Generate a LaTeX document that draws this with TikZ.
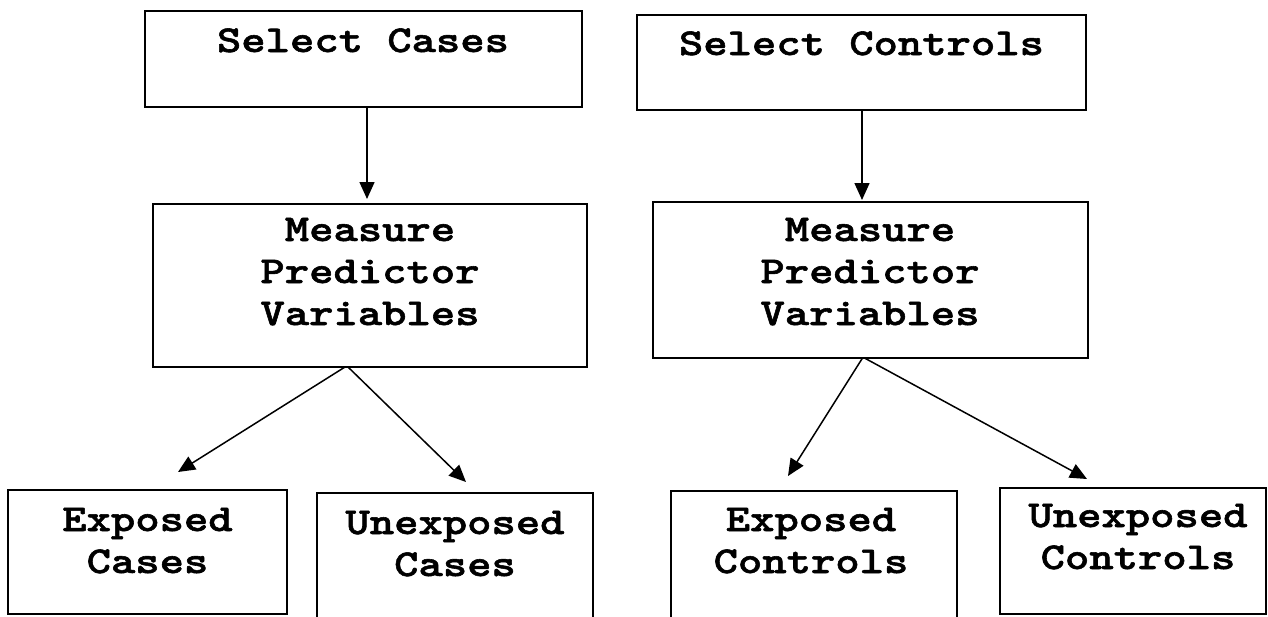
\documentclass[tikz,border=0pt]{standalone}
\usepackage{fontspec}
\usetikzlibrary{arrows.meta}
% Latin Modern typewriter, widened and darkened to Courier-like proportions
\newfontfamily\diagfont{lmmonolt10-bold.otf}[FakeStretch=1.22, FakeBold=1.5]
\begin{document}
\begin{tikzpicture}[x=1pt,y=-1pt,
  box/.style={draw, line width=1.9pt, inner sep=0pt, outer sep=0pt},
  lbl/.style={font=\diagfont\fontsize{38}{42}\selectfont,
              align=center, anchor=base, inner sep=0pt},
  link/.style={line width=1.5pt, -{Triangle[length=17pt,width=15pt]}}]
\useasboundingbox (0,0) rectangle (1268,616);
\clip (0,0) rectangle (1268,616);

% boxes
\node[box, minimum width=437pt, minimum height=96pt]  (sc) at (363.5,59)  {};
\node[box, minimum width=449pt, minimum height=95pt]  (sk) at (861.5,62.5) {};
\node[box, minimum width=434pt, minimum height=163pt] (m1) at (370,285.5) {};
\node[box, minimum width=435pt, minimum height=156pt] (m2) at (870.5,280) {};
\node[box, minimum width=279pt, minimum height=124pt] (e1) at (147.5,552) {};
\node[box, minimum width=276pt, minimum height=147pt] (u1) at (455,566.5) {};
\node[box, minimum width=286pt, minimum height=149pt] (e2) at (814,565.5) {};
\node[box, minimum width=266pt, minimum height=126pt] (u2) at (1133,551) {};

% labels (multi-line labels are placed by the baseline of their last line)
\node[lbl] (sc-t) at (363,52)   {Select Cases};
\node[lbl] (sk-t) at (861.5,55) {Select Controls};
\node[lbl] (m1-t) at (370,325)  {Measure\\Predictor\\Variables};
\node[lbl] (m2-t) at (870,325)  {Measure\\Predictor\\Variables};
\node[lbl] (e1-t) at (147.5,573) {Exposed\\Cases};
\node[lbl] (u1-t) at (455,576)  {Unexposed\\Cases};
\node[lbl] (e2-t) at (811,573)  {Exposed\\Controls};
\node[lbl] (u2-t) at (1138,569) {Unexposed\\Controls};

% arrow tips
\coordinate (t-m1) at (367,199);
\coordinate (t-m2) at (862,200);
\coordinate (t-e1) at (178,472);
\coordinate (t-u1) at (466,482);
\coordinate (t-e2) at (788,476);
\coordinate (t-u2) at (1087,479);

% connectors
\draw[link] ([xshift=3.5pt]sc.south) -- (t-m1);
\draw[link] ([xshift=0.5pt]sk.south) -- (t-m2);
\draw[link] ([xshift=-25pt]m1.south) -- (t-e1);
\draw[link] ([xshift=-22pt]m1.south) -- (t-u1);
\draw[link] ([xshift=-8pt]m2.south)  -- (t-e2);
\draw[link] ([xshift=-6pt]m2.south)  -- (t-u2);
\end{tikzpicture}
\end{document}
